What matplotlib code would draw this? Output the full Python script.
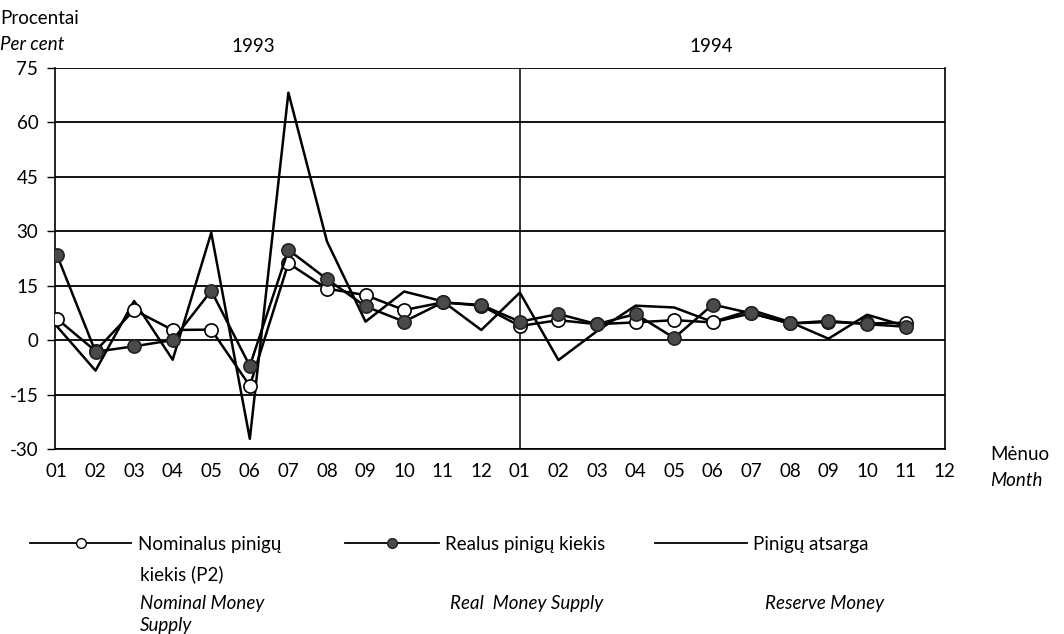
import numpy as np
import matplotlib
matplotlib.use("Agg")
import matplotlib.pyplot as plt

plt.rcParams['font.family'] = ['Lato', 'DejaVu Sans']

months = ["01", "02", "03", "04", "05", "06", "07", "08", "09", "10", "11", "12",
          "01", "02", "03", "04", "05", "06", "07", "08", "09", "10", "11", "12"]

# 1993-01 .. 1994-11, per cent
nominal = [5.9, -3.0, 8.3, 2.8, 2.9, -12.6, 21.2, 14.2, 12.4, 8.3, 10.4, 9.5,
           3.9, 5.5, 4.4, 4.9, 5.5, 4.9, 7.4, 4.6, 5.0, 4.6, 4.8]
real = [23.5, -3.2, -1.7, 0.0, 13.6, -7.1, 24.9, 16.8, 9.3, 5.1, 10.4, 9.7,
        5.1, 7.2, 4.4, 7.2, 0.6, 9.8, 7.4, 4.6, 5.3, 4.4, 3.7]
reserve = [3.8, -8.4, 10.8, -5.4, 29.6, -27.2, 68.2, 27.2, 5.1, 13.4, 10.7, 2.8,
           13.1, -5.5, 2.5, 9.5, 9.0, 5.0, 8.3, 5.0, 0.4, 7.0, 3.9]

yticks = [75, 60, 45, 30, 15, 0, -15, -30]

fig = plt.figure(figsize=(10.64, 6.34), dpi=100)
ax = fig.add_axes([55/1064, 1 - 449/634, 890/1064, 381/634])

x = np.arange(len(nominal))

for y in yticks:
    ax.axhline(y, color='black', lw=1.3, zorder=1)
ax.axvline(12, color='black', lw=1.1, zorder=1)

ax.plot(x, reserve, color='black', lw=1.8, zorder=2)
ax.plot(x, nominal, color='black', lw=1.8, marker='o', ms=9.5,
        mfc='white', mec='black', mew=1.2, zorder=3)
ax.plot(x, real, color='black', lw=1.8, marker='o', ms=9.5,
        mfc='#4a4a4a', mec='#222222', mew=1.2, zorder=4)

ax.set_xlim(-0.05, 23.02)
ax.set_ylim(-30, 75)
ax.set_yticks(yticks)
ax.set_yticklabels([str(v) for v in yticks])
ax.set_xticks(np.arange(len(months)))
ax.set_xticklabels(months)
ax.tick_params(axis='y', length=6, width=1, pad=6, labelsize=13.5)
ax.tick_params(axis='x', length=0, pad=10, labelsize=13.5)
for s in ax.spines.values():
    s.set_linewidth(1.2)
ax.spines['top'].set_visible(False)

# axis texts
fig.text(0, 1 - 18/634, "Procentai", fontsize=13.5, va='center', ha='left')
fig.text(0, 1 - 45/634, "Per cent", fontsize=13.5, style='italic', va='center', ha='left')
fig.text(253/1064, 1 - 46/634, "1993", fontsize=13.5, va='center', ha='center')
fig.text(711/1064, 1 - 46/634, "1994", fontsize=13.5, va='center', ha='center')
fig.text(990/1064, 1 - 455/634, "Mėnuo", fontsize=13.5, va='center', ha='left')
fig.text(990/1064, 1 - 481/634, "Month", fontsize=13.5, style='italic', va='center', ha='left')

# legend, three separate entries
h_nom, = ax.plot([], [], color='black', lw=1.3, marker='o', ms=7, mfc='white', mec='black')
h_real, = ax.plot([], [], color='black', lw=1.3, marker='o', ms=7, mfc='#4a4a4a', mec='#222222')
h_res, = ax.plot([], [], color='black', lw=1.3)

entries = [
    (h_nom, "Nominalus pinigų", 30, 5.4, ["Nominal Money", "Supply"], 140),
    (h_real, "Realus pinigų kiekis", 345, 5.0, ["Real  Money Supply"], 450),
    (h_res, "Pinigų atsarga", 655, 4.9, ["Reserve Money"], 765),
]
for h, lab, x0, hl, eng, ex in entries:
    fig.legend([h], [lab], loc='upper left', frameon=False,
               bbox_to_anchor=(x0/1064, 1 - 536/634), borderpad=0,
               borderaxespad=0, handlelength=hl, handletextpad=0.35,
               fontsize=13.5, labelspacing=0)
    for i, line in enumerate(eng):
        fig.text(ex/1064, 1 - (603 + 22*i)/634, line, fontsize=13.5,
                 style='italic', va='center', ha='left')
fig.text(140/1064, 1 - 574/634, "kiekis (P2)", fontsize=13.5, va='center', ha='left')

fig.savefig("out.png", dpi=100)
